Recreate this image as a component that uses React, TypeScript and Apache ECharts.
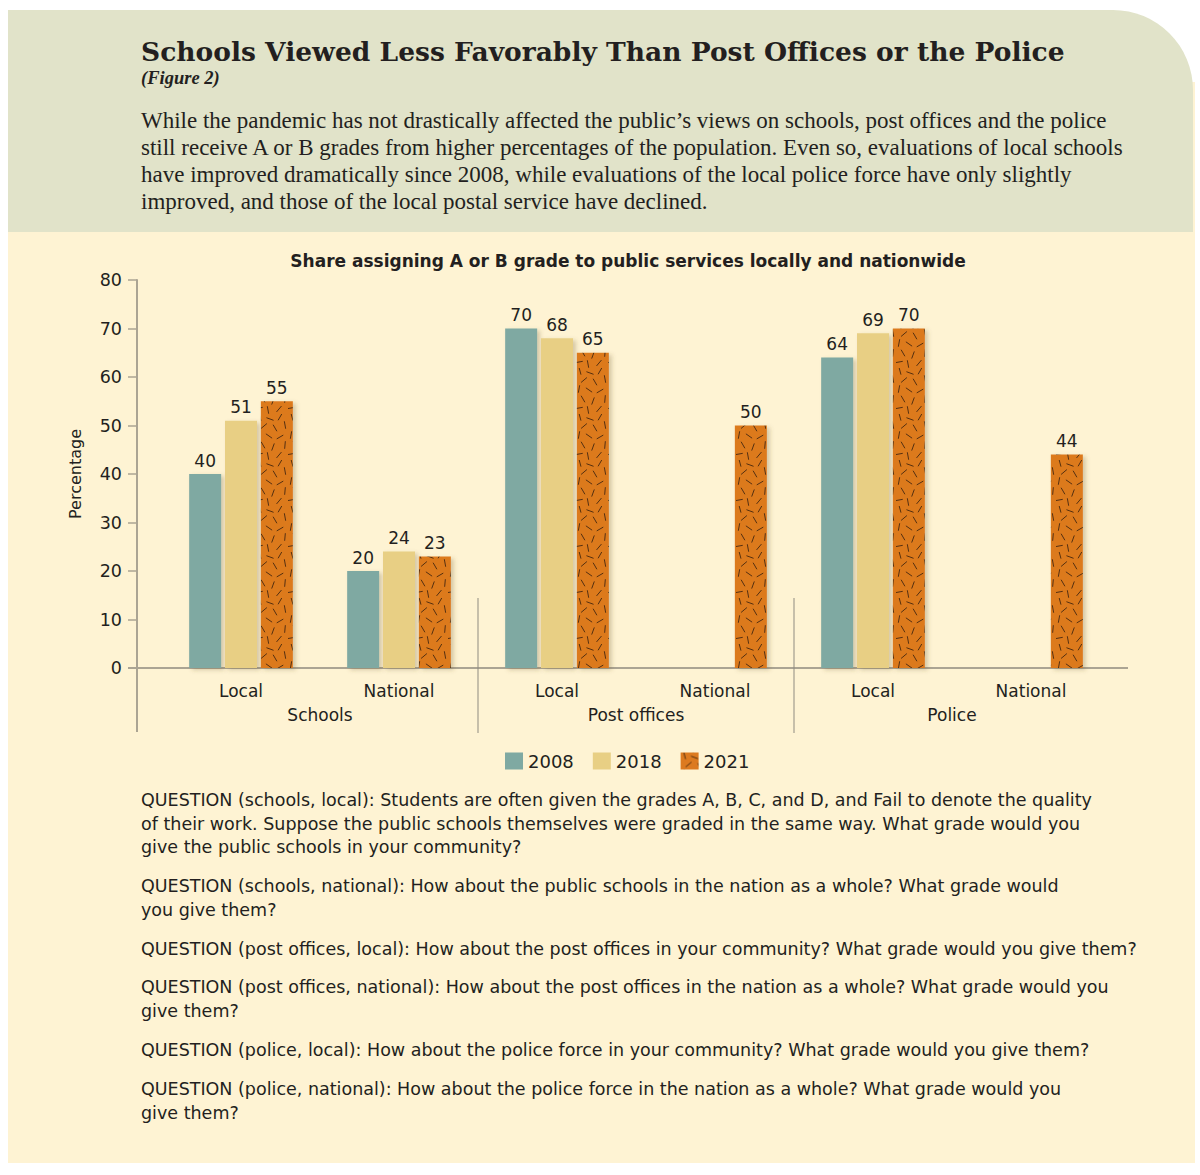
import React, { useEffect, useRef } from 'react';
import * as echarts from 'echarts';

// ---------- data ----------
const subCategories = ['Local', 'National', 'Local', 'National', 'Local', 'National'];
const groupCategories = ['Schools', 'Post offices', 'Police'];
const seriesNames = ['2008', '2018', '2021'];
const values2008 = [40, 20, 70, null, 64, null];
const values2018 = [51, 24, 68, null, 69, null];
const values2021 = [55, 23, 65, 50, 70, 44];
const yMin = 0;
const yMax = 80;
const yInterval = 10;

const titleText = 'Schools Viewed Less Favorably Than Post Offices or the Police';
const figureText = '(Figure 2)';
const descriptionLines = [
  'While the pandemic has not drastically affected the public\u2019s views on schools, post offices and the police',
  'still receive A or B grades from higher percentages of the population. Even so, evaluations of local schools',
  'have improved dramatically since 2008, while evaluations of the local police force have only slightly',
  'improved, and those of the local postal service have declined.',
];
const chartTitle = 'Share assigning A or B grade to public services locally and nationwide';
const yAxisName = 'Percentage';
const questions = [
  [
    'QUESTION (schools, local): Students are often given the grades A, B, C, and D, and Fail to denote the quality',
    'of their work. Suppose the public schools themselves were graded in the same way. What grade would you',
    'give the public schools in your community?',
  ],
  [
    'QUESTION (schools, national): How about the public schools in the nation as a whole? What grade would',
    'you give them?',
  ],
  ['QUESTION (post offices, local): How about the post offices in your community? What grade would you give them?'],
  [
    'QUESTION (post offices, national): How about the post offices in the nation as a whole? What grade would you',
    'give them?',
  ],
  ['QUESTION (police, local): How about the police force in your community? What grade would you give them?'],
  [
    'QUESTION (police, national): How about the police force in the nation as a whole? What grade would you',
    'give them?',
  ],
];
const questionCenters = [800, 886, 949, 987, 1050, 1089];

// ---------- style ----------
const TEXT = '#231f20';
const SANS = '"DejaVu Sans", "Noto Sans", sans-serif';
const C2008 = '#7fa9a2';
const C2018 = '#e8cf84';
const C2021 = '#dc7a1f';
const AXIS = '#aba493';
const Y_OFFSET = 25;

// deterministic texture strokes for the 2021 bars: [x, y, angleDeg]
const dashes = [
  [4, 3, 75], [14, 5, 20], [24, 3, 120], [29, 11, 80], [8, 12, 140], [19, 14, 60],
  [3, 21, 100], [13, 22, 35], [24, 23, 150], [29, 31, 95], [7, 31, 60],
  [17, 33, 110], [3, 40, 170], [12, 42, 80], [23, 41, 130],
];

function makePattern() {
  const w = 32;
  const h = 46;
  const c = document.createElement('canvas');
  c.width = w;
  c.height = h;
  const ctx = c.getContext('2d')!;
  ctx.fillStyle = C2021;
  ctx.fillRect(0, 0, w, h);
  ctx.strokeStyle = '#54300f';
  ctx.lineWidth = 1;
  for (const [x, y, a] of dashes) {
    const r = (a * Math.PI) / 180;
    const l = 3.8;
    ctx.beginPath();
    ctx.moveTo(x - l * Math.cos(r), y - l * Math.sin(r));
    ctx.lineTo(x + l * Math.cos(r), y + l * Math.sin(r));
    ctx.stroke();
  }
  return { image: c.toDataURL(), repeat: 'repeat', imageWidth: w, imageHeight: h };
}

export default function App() {
  const ref = useRef<HTMLDivElement>(null);

  useEffect(() => {
    document.body.style.margin = '0';
    const chart = echarts.init(ref.current!, null, { renderer: 'svg' });
    const pattern = makePattern();

    const shadow = {
      shadowColor: 'rgba(110,90,50,0.28)',
      shadowBlur: 4,
      shadowOffsetX: 3,
      shadowOffsetY: 2,
    };
    const label = {
      show: true,
      position: 'top',
      distance: 5,
      fontSize: 17,
      fontFamily: SANS,
      color: TEXT,
    };

    const staticGraphics: any[] = [
      {
        type: 'rect',
        z: -10,
        silent: true,
        shape: { x: 8, y: 82, width: 1187, height: 1081 },
        style: { fill: '#fef3d3' },
      },
      {
        type: 'rect',
        z: -9,
        silent: true,
        shape: { x: 8, y: 10, width: 1185, height: 222, r: [0, 80, 0, 0] },
        style: { fill: '#e1e3c9' },
      },
      {
        type: 'text',
        x: 141,
        y: 51,
        style: {
          text: titleText,
          font: 'bold 26.5px "DejaVu Serif", serif',
          fill: TEXT,
          textVerticalAlign: 'middle',
        },
      },
      {
        type: 'text',
        x: 141,
        y: 78,
        style: {
          text: figureText,
          font: 'italic bold 18.5px "Liberation Serif", serif',
          fill: TEXT,
          textVerticalAlign: 'middle',
        },
      },
      {
        type: 'text',
        x: 141,
        y: 120 - 13.5,
        style: {
          text: descriptionLines.join('\n'),
          font: '23px "Liberation Serif", serif',
          lineHeight: 27,
          fill: TEXT,
          textVerticalAlign: 'top',
        },
      },
      {
        type: 'text',
        x: 628,
        y: 261,
        style: {
          text: chartTitle,
          font: `bold 17px ${SANS}`,
          fill: TEXT,
          textAlign: 'center',
          textVerticalAlign: 'middle',
        },
      },
      ...questions.map((lines, i) => ({
        type: 'text',
        x: 141,
        y: questionCenters[i] - 11.75,
        style: {
          text: lines.join('\n'),
          font: `17.5px ${SANS}`,
          lineHeight: 23.5,
          fill: TEXT,
          textVerticalAlign: 'top',
        },
      })),
    ];

    const option: any = {
      animation: false,
      grid: { left: 162, right: 90, top: 280, bottom: 507, containLabel: false },
      legend: {
        data: seriesNames,
        left: 500,
        top: 747,
        itemWidth: 18,
        itemHeight: 17,
        itemGap: 19,
        icon: 'rect',
        textStyle: { fontSize: 18, fontFamily: SANS, color: TEXT },
      },
      xAxis: [
        {
          type: 'category',
          data: subCategories,
          position: 'bottom',
          axisLine: { show: false },
          axisTick: { show: false },
          axisLabel: { margin: 14, fontSize: 17, fontFamily: SANS, color: TEXT, interval: 0 },
        },
        {
          type: 'category',
          data: groupCategories,
          position: 'bottom',
          offset: 0,
          axisLine: { show: false },
          axisTick: { show: false },
          axisLabel: { margin: 38, fontSize: 17, fontFamily: SANS, color: TEXT, interval: 0 },
        },
      ],
      yAxis: {
        type: 'value',
        min: yMin,
        max: yMax,
        interval: yInterval,
        offset: Y_OFFSET,
        name: yAxisName,
        nameLocation: 'middle',
        nameGap: 54,
        nameRotate: 90,
        nameTextStyle: { fontSize: 16, fontFamily: SANS, color: TEXT },
        axisLine: { show: true, lineStyle: { color: AXIS, width: 2 } },
        axisTick: { show: true, length: 9, lineStyle: { color: AXIS, width: 1.5 } },
        axisLabel: { margin: 15, fontSize: 17.5, fontFamily: SANS, color: TEXT },
        splitLine: { show: false },
      },
      series: [
        {
          name: seriesNames[0],
          type: 'bar',
          data: values2008,
          barWidth: 32,
          barGap: '12%',
          itemStyle: { color: C2008, ...shadow },
          label,
        },
        {
          name: seriesNames[1],
          type: 'bar',
          data: values2018,
          barWidth: 32,
          barGap: '12%',
          itemStyle: { color: C2018, ...shadow },
          label,
        },
        {
          name: seriesNames[2],
          type: 'bar',
          data: values2021,
          barWidth: 32,
          barGap: '12%',
          itemStyle: { color: pattern, ...shadow },
          label,
        },
      ],
      graphic: { elements: staticGraphics },
    };

    chart.setOption(option);

    // axis decorations derived from the chart's own scales
    const y0 = chart.convertToPixel({ yAxisIndex: 0 }, yMin) as number;
    const c0 = chart.convertToPixel({ xAxisIndex: 0 }, 0) as number;
    const c1 = chart.convertToPixel({ xAxisIndex: 0 }, 1) as number;
    const band = c1 - c0;
    const gridLeft = c0 - band / 2;
    const gridRight = gridLeft + band * subCategories.length;
    const axisX = gridLeft - Y_OFFSET;
    const sep1 = c0 + band * 1.5;
    const sep2 = c0 + band * 3.5;

    const guides: any[] = [
      {
        type: 'line',
        z: 1,
        silent: true,
        shape: { x1: axisX - 9, y1: y0, x2: gridRight + 18, y2: y0 },
        style: { stroke: AXIS, lineWidth: 2 },
      },
      {
        type: 'line',
        z: 1,
        silent: true,
        shape: { x1: axisX, y1: y0, x2: axisX, y2: y0 + 64 },
        style: { stroke: AXIS, lineWidth: 2 },
      },
      {
        type: 'line',
        z: 1,
        silent: true,
        shape: { x1: sep1, y1: y0 - 70, x2: sep1, y2: y0 + 65 },
        style: { stroke: '#8f8b80', lineWidth: 1 },
      },
      {
        type: 'line',
        z: 1,
        silent: true,
        shape: { x1: sep2, y1: y0 - 70, x2: sep2, y2: y0 + 65 },
        style: { stroke: '#8f8b80', lineWidth: 1 },
      },
    ];

    chart.setOption({ graphic: { elements: [...staticGraphics, ...guides] } });

    return () => chart.dispose();
  }, []);

  return <div ref={ref} style={{ width: 1200, height: 1175 }} />;
}
